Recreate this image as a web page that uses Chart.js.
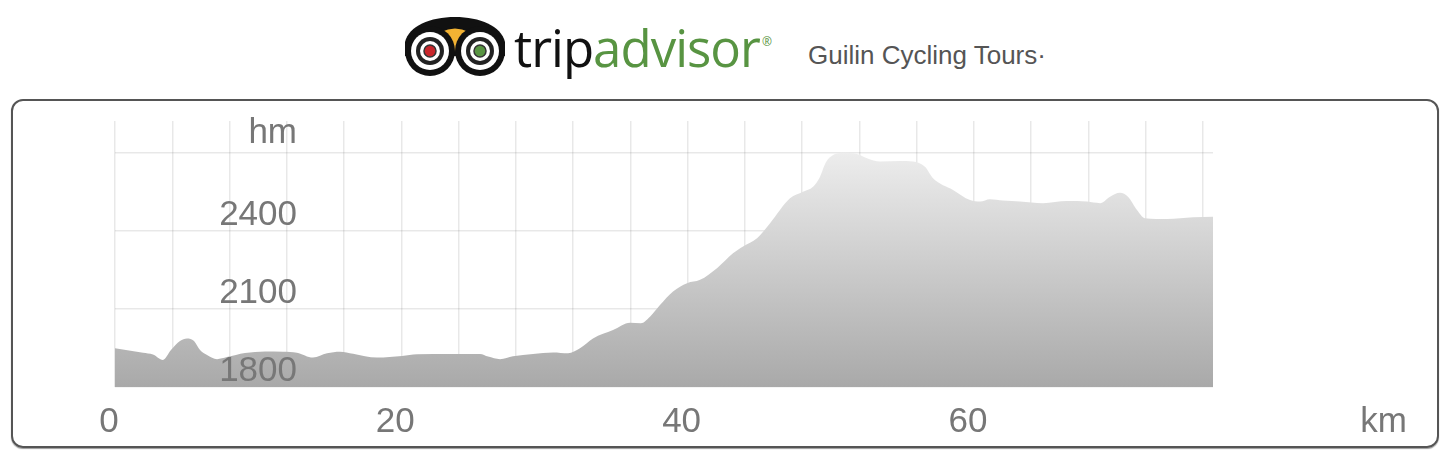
<!DOCTYPE html>
<html>
<head>
<meta charset="utf-8">
<script src="https://cdn.jsdelivr.net/npm/chart.js@4"></script>
<style>
  html, body { margin: 0; padding: 0; background: #ffffff; width: 1451px; height: 455px; overflow: hidden; }
  #box { position: absolute; left: 11px; top: 99px; width: 1424px; height: 345px; border: 2px solid #555555; border-radius: 12px; box-shadow: 0 1px 1px #999; }
  #chart { position: absolute; left: 0; top: 0; }
  #header { position: absolute; left: 0; top: 0; }
</style>
</head>
<body>
<svg id="header" width="1451" height="95" xmlns="http://www.w3.org/2000/svg">
  <!-- owl logo -->
  <g transform="translate(400,10)">
    <path d="M5,32 C9,16 30,7 55,7 C80,7 101,16 105,32 L105,46 L5,46 Z" fill="#111"/>
    <path d="M41,22 Q55,15 69,22 L55,42 Z" fill="#f2b233"/>
    <circle cx="30" cy="41" r="25" fill="#111"/>
    <circle cx="80" cy="41" r="25" fill="#111"/>
    <circle cx="30" cy="41" r="19" fill="#fff"/>
    <circle cx="80" cy="41" r="19" fill="#fff"/>
    <circle cx="30" cy="41" r="14" fill="#222"/>
    <circle cx="80" cy="41" r="14" fill="#222"/>
    <circle cx="30" cy="41" r="10" fill="#fff"/>
    <circle cx="80" cy="41" r="10" fill="#fff"/>
    <circle cx="30" cy="41" r="6" fill="#c8262b" stroke="#333" stroke-width="1.5"/>
    <circle cx="80" cy="41" r="6" fill="#589442" stroke="#333" stroke-width="1.5"/>
  </g>
  <text x="514" y="67" font-family="'Open Sans', sans-serif" font-size="51" letter-spacing="-1"><tspan fill="#111">trip</tspan><tspan fill="#589442">advisor</tspan></text>
  <text x="762" y="46" font-family="'Open Sans', sans-serif" font-size="12" fill="#589442">®</text>
  <text x="808" y="64" font-family="'Liberation Sans', Arial, sans-serif" font-size="26" fill="#555">Guilin Cycling Tours·</text>
</svg>
<div id="box"></div>
<canvas id="chart" width="1451" height="455"></canvas>
<script>
// ---- data ----
const distanceKm = [0, 1.96, 2.65, 3.35, 3.91, 4.54, 5.03, 5.52, 5.94, 6.43, 7.13, 7.82, 9.08, 10.48, 11.74, 12.71, 13.83, 14.81, 15.72, 16.63, 18.30, 20.05, 21.10, 23.40, 25.50, 26.06, 26.90, 27.80, 29.20, 30.60, 31.65, 32.48, 33.39, 34.79, 35.98, 36.74, 37.37, 38.07, 38.98, 39.96, 40.87, 42.05, 43.17, 43.87, 44.85, 45.76, 47.15, 48.06, 48.76, 49.25, 49.67, 50.16, 50.86, 51.83, 52.53, 53.44, 54.84, 55.75, 56.58, 57.14, 58.54, 59.73, 60.43, 61.12, 62.03, 63.22, 64.83, 66.50, 67.90, 68.81, 69.51, 70.21, 70.76, 71.39, 71.95, 73.49, 75.31, 76.70];
const elevationHm = [1949, 1932, 1925, 1904, 1942, 1977, 1987, 1977, 1942, 1923, 1907, 1915, 1931, 1937, 1936, 1932, 1913, 1930, 1936, 1928, 1913, 1919, 1926, 1927, 1927, 1917, 1907, 1918, 1927, 1933, 1930, 1949, 1987, 2019, 2047, 2045, 2070, 2115, 2167, 2199, 2212, 2257, 2314, 2340, 2372, 2430, 2526, 2551, 2570, 2609, 2665, 2692, 2701, 2696, 2680, 2667, 2669, 2667, 2647, 2603, 2558, 2519, 2513, 2522, 2517, 2513, 2507, 2515, 2513, 2507, 2532, 2547, 2532, 2481, 2449, 2446, 2453, 2455];
const xTickLabels = [0, 20, 40, 60];
const yTickLabels = [1800, 2100, 2400];
const xUnit = 'km';
const yUnit = 'hm';
const yUnitAt = 2700;

const points = distanceKm.map((d, i) => ({ x: d, y: elevationHm[i] }));

const labelFont = "35px 'Liberation Sans', Arial, sans-serif";
const labelColor = '#777777';

const labelsPlugin = {
  id: 'profileLabels',
  afterDraw(chart) {
    const ctx = chart.ctx;
    const xs = chart.scales.x, ys = chart.scales.y;
    const area = chart.chartArea;
    ctx.save();
    ctx.font = labelFont;
    ctx.fillStyle = labelColor;
    // y labels, drawn inside the plot, right aligned
    ctx.textAlign = 'right';
    ctx.textBaseline = 'alphabetic';
    const yRight = area.left + 182;
    yTickLabels.forEach(v => ctx.fillText(String(v), yRight, ys.getPixelForValue(v) - 6));
    ctx.fillText(yUnit, yRight, ys.getPixelForValue(yUnitAt) - 10);
    // x labels, below the plot
    ctx.textAlign = 'center';
    const xBase = area.bottom + 45;
    xTickLabels.forEach(v => ctx.fillText(String(v), xs.getPixelForValue(v) - 6, xBase));
    ctx.textAlign = 'right';
    ctx.fillText(xUnit, area.right + 194, xBase);
    ctx.restore();
  }
};

new Chart(document.getElementById('chart'), {
  type: 'line',
  data: {
    datasets: [{
      data: points,
      borderWidth: 0,
      borderColor: 'rgba(0,0,0,0)',
      pointRadius: 0,
      fill: 'start',
      tension: 0.4,
      cubicInterpolationMode: 'monotone',
      backgroundColor(context) {
        const a = context.chart.chartArea;
        if (!a) return '#cccccc';
        const g = context.chart.ctx.createLinearGradient(0, a.top, 0, a.bottom);
        g.addColorStop(0, '#f6f6f6');
        g.addColorStop(1, '#a9a9a9');
        return g;
      }
    }]
  },
  options: {
    responsive: false,
    animation: false,
    devicePixelRatio: 1,
    layout: { padding: { left: 115, top: 121, right: 238, bottom: 68 } },
    plugins: { legend: { display: false }, tooltip: { enabled: false } },
    scales: {
      x: {
        type: 'linear',
        min: 0,
        max: 76.7,
        z: 1,
        border: { display: false },
        grid: { color: 'rgba(0,0,0,0.09)', lineWidth: 1.5, drawTicks: false },
        ticks: { display: false, stepSize: 4, includeBounds: false }
      },
      y: {
        type: 'linear',
        min: 1800,
        max: 2823,
        z: 1,
        border: { display: false },
        grid: { color: 'rgba(0,0,0,0.09)', lineWidth: 1.5, drawTicks: false },
        ticks: { display: false, stepSize: 300, includeBounds: false }
      }
    }
  },
  plugins: [labelsPlugin]
});
</script>
</body>
</html>
